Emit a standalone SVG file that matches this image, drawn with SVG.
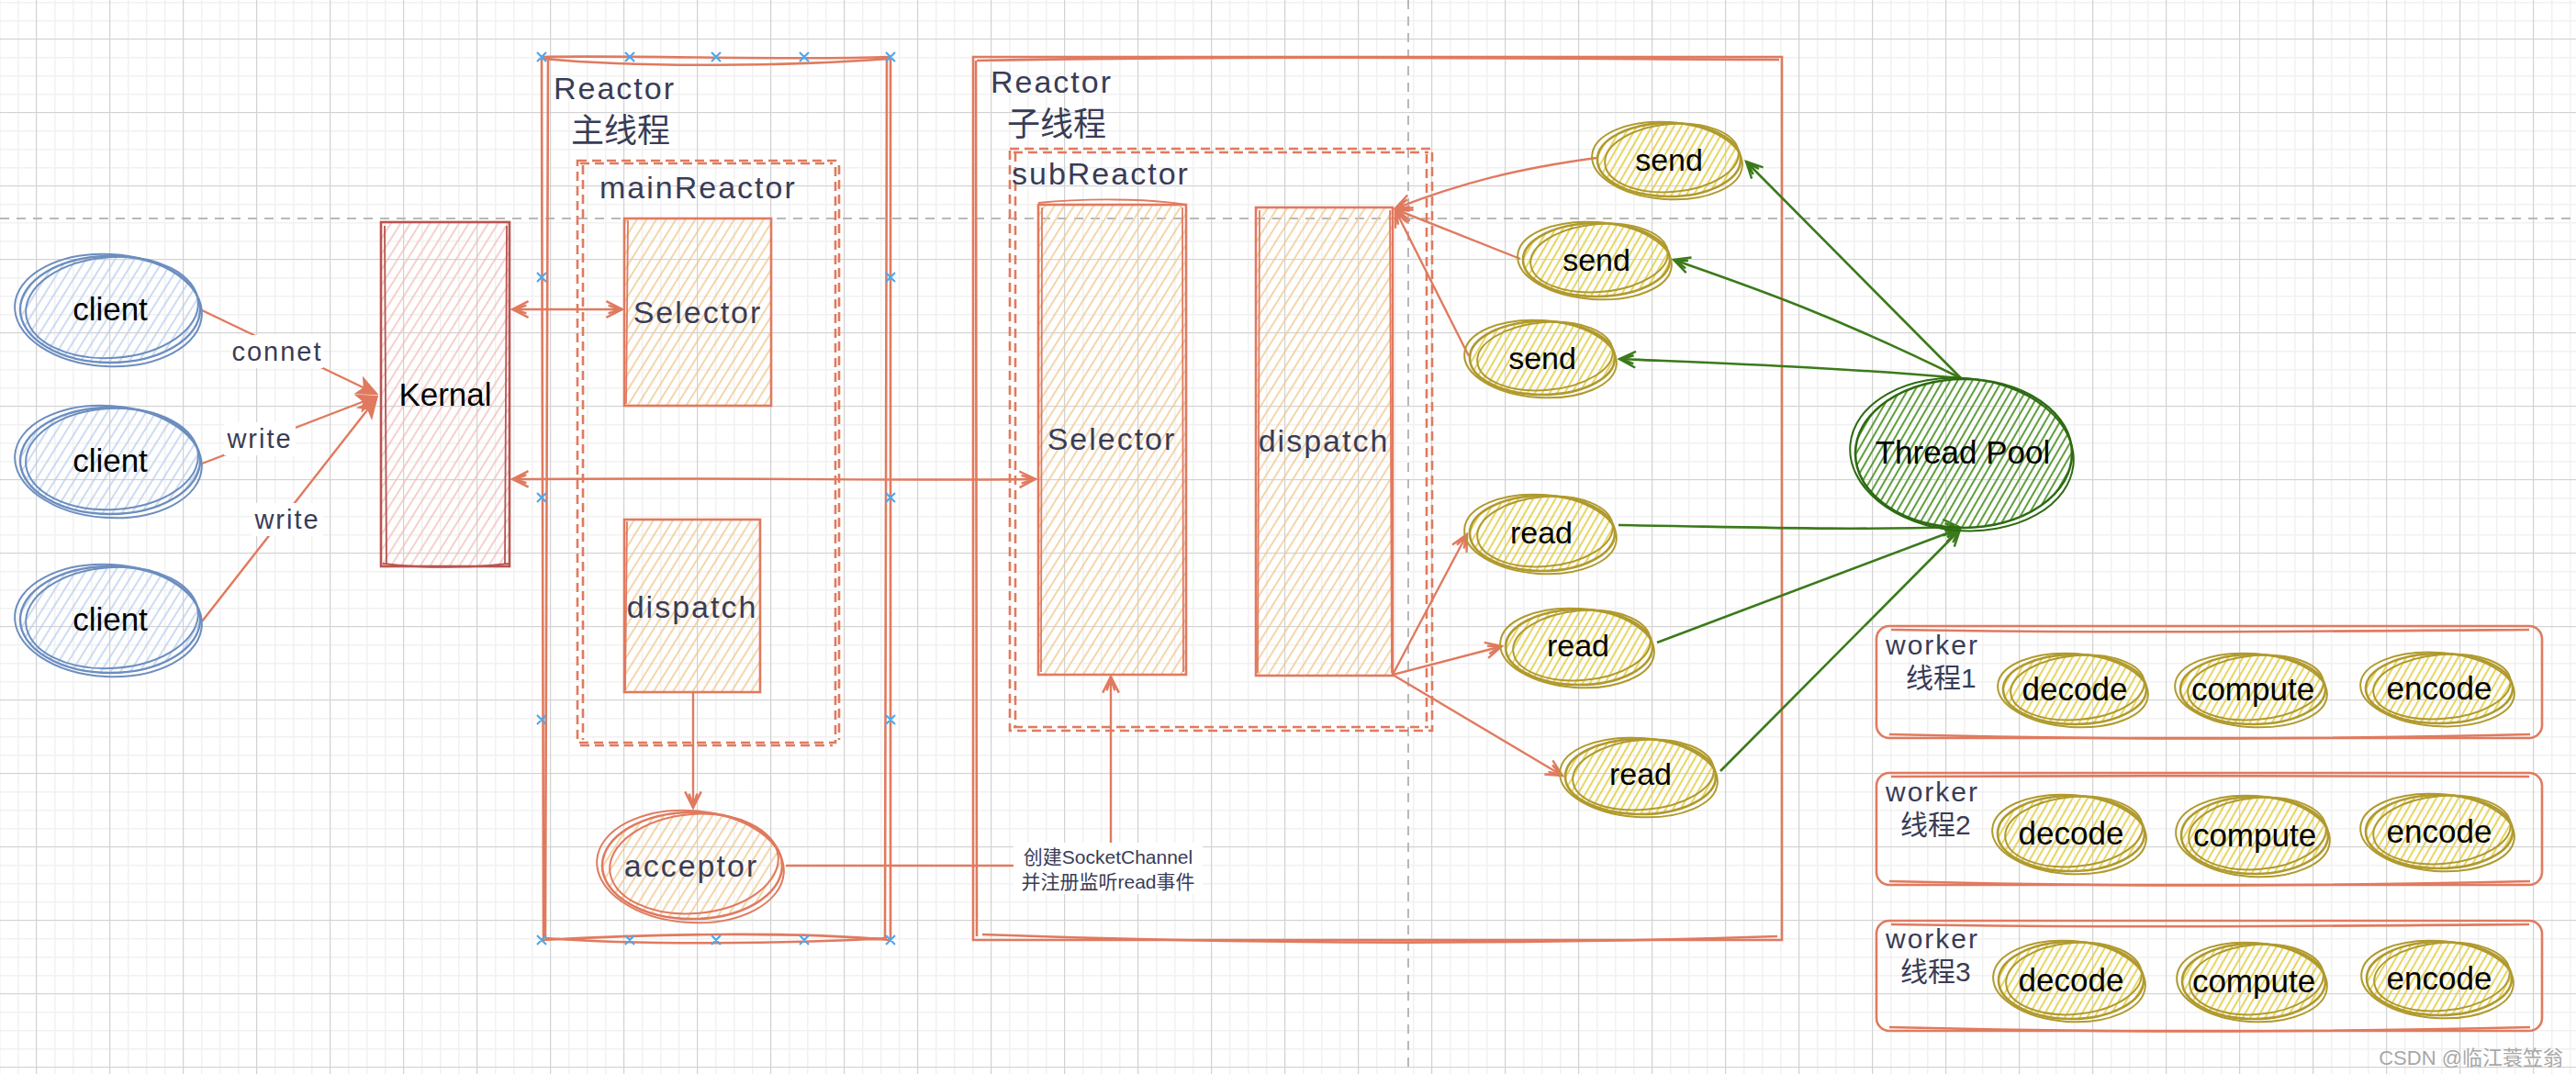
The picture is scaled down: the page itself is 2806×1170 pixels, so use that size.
<svg xmlns="http://www.w3.org/2000/svg" width="2806" height="1170" viewBox="0 0 2806 1170">
<defs>
<pattern id="gMinor" width="20" height="20" patternUnits="userSpaceOnUse" x="-1" y="2"><path d="M0,0 H20 M0,0 V20" stroke="#f1f1f1" stroke-width="3" fill="none"/></pattern>
<pattern id="gMajor" width="80" height="80" patternUnits="userSpaceOnUse" x="39" y="42"><path d="M0,0.5 H80 M0.5,0 V80" stroke="#d2d2d2" stroke-width="1.2" fill="none"/></pattern>
<pattern id="hBlue" width="9" height="9" patternUnits="userSpaceOnUse" patternTransform="rotate(32)"><path d="M4,0 V9" stroke="#b7cdee" stroke-width="1.4"/></pattern>
<pattern id="hPink" width="9" height="9" patternUnits="userSpaceOnUse" patternTransform="rotate(32)"><path d="M4,0 V9" stroke="#f3bcb8" stroke-width="1.4"/></pattern>
<pattern id="hOrange" width="9" height="9" patternUnits="userSpaceOnUse" patternTransform="rotate(32)"><path d="M4,0 V9" stroke="#f0c890" stroke-width="1.5"/></pattern>
<pattern id="hYellow" width="7" height="7" patternUnits="userSpaceOnUse" patternTransform="rotate(30)"><path d="M3,0 V7" stroke="#e3cc3a" stroke-width="1.6"/></pattern>
<pattern id="hGreen" width="7" height="7" patternUnits="userSpaceOnUse" patternTransform="rotate(30)"><path d="M3,0 V7" stroke="#4e9428" stroke-width="1.8"/></pattern>
<marker id="aS" viewBox="0 0 20 20" refX="18" refY="10" markerWidth="22" markerHeight="22" markerUnits="userSpaceOnUse" orient="auto-start-reverse"><path d="M2,2 L18,10 L2,18 M4,6 L16,10 L4,14" fill="none" stroke="#e07a5f" stroke-width="2.2"/></marker>
<marker id="aG" viewBox="0 0 20 20" refX="18" refY="10" markerWidth="22" markerHeight="22" markerUnits="userSpaceOnUse" orient="auto"><path d="M2,2 L18,10 L2,18 M4,6 L16,10 L4,14" fill="none" stroke="#3b7a1a" stroke-width="2.2"/></marker>
<marker id="aK" viewBox="0 0 20 20" refX="18" refY="10" markerWidth="24" markerHeight="24" markerUnits="userSpaceOnUse" orient="auto"><path d="M2,3 L18,10 L2,17 L6,10 Z" fill="#e07a5f" stroke="#e07a5f" stroke-width="2"/></marker>
<style>
.navy{font-family:"Liberation Sans",Arial,sans-serif;fill:#393c56;letter-spacing:2px}
.blk{font-family:"Liberation Sans",Arial,sans-serif;fill:#000;text-anchor:middle}
.cjk{font-family:"Liberation Sans","Noto Sans CJK SC",sans-serif;fill:#393c56}
.sal{fill:none;stroke:#e07a5f;stroke-width:2.6}
.dash{fill:none;stroke:#e07a5f;stroke-width:2.6;stroke-dasharray:10 6}
.cE{fill:url(#hBlue);stroke:#6c8ebf;stroke-width:2.4}
.cS{fill:none;stroke:#6c8ebf;stroke-width:2}
.yE{fill:url(#hYellow);stroke:#b09a2e;stroke-width:2.6}
.yS{fill:none;stroke:#b09a2e;stroke-width:2}
.oE{fill:url(#hOrange);stroke:#e07a5f;stroke-width:2.6}
.lnS{fill:none;stroke:#e07a5f;stroke-width:2.4}
.lnG{fill:none;stroke:#3b7a1a;stroke-width:2.6}
.mk{stroke:#4ea8ee;stroke-width:2.2;fill:none}
.lblbg{fill:#fff}
</style>
</defs>
<rect width="2806" height="1170" fill="#fff"/>
<rect width="2806" height="1170" fill="url(#gMinor)"/>
<rect width="2806" height="1170" fill="url(#gMajor)"/>
<path d="M0,238 H2806" stroke="#b8b8b8" stroke-width="2" stroke-dasharray="10 8"/>
<path d="M1534,0 V1170" stroke="#b8b8b8" stroke-width="2" stroke-dasharray="10 8"/>

<g id="reactor-main">
<path class="sal" d="M590,62 C700,60 860,66 970,62 M592,64 C700,74 860,72 968,64 M590,62 L592,1024 M597,64 L594,1022 M970,62 L970,1024 M966,64 L964,1022 M590,1024 C700,1018 860,1014 970,1024 M594,1022 C700,1030 860,1028 966,1022"/>
<text class="navy" x="603" y="108" font-size="34">Reactor</text>
<text class="cjk" x="622" y="155" font-size="36">主线程</text>
<g class="mk">
<path d="M585,57 l10,10 m0,-10 l-10,10 M681,57 l10,10 m0,-10 l-10,10 M775,57 l10,10 m0,-10 l-10,10 M871,57 l10,10 m0,-10 l-10,10 M965,57 l10,10 m0,-10 l-10,10"/>
<path d="M585,297 l10,10 m0,-10 l-10,10 M965,297 l10,10 m0,-10 l-10,10 M585,537 l10,10 m0,-10 l-10,10 M965,537 l10,10 m0,-10 l-10,10 M585,779 l10,10 m0,-10 l-10,10 M965,779 l10,10 m0,-10 l-10,10"/>
<path d="M585,1019 l10,10 m0,-10 l-10,10 M681,1019 l10,10 m0,-10 l-10,10 M775,1019 l10,10 m0,-10 l-10,10 M871,1019 l10,10 m0,-10 l-10,10 M965,1019 l10,10 m0,-10 l-10,10"/>
</g>
</g>

<g id="main-reactor">
<path class="dash" d="M629,175 H910 V809 H629 Z"/>
<path class="dash" d="M632,178 H907 M635,180 V806 M914,180 V806 M632,812 H907" stroke-width="2"/>
<text class="navy" x="653" y="216" font-size="34">mainReactor</text>
</g>

<g id="reactor-sub">
<path class="sal" d="M1060,62 H1941 V1024 H1060 Z"/>
<path class="sal" stroke-width="1.8" d="M1064,66 C1400,60 1700,64 1938,65 M1063,66 L1064,1020 M1070,1018 C1400,1030 1700,1028 1936,1020"/>
<text class="navy" x="1079" y="101" font-size="34">Reactor</text>
<text class="cjk" x="1097" y="148" font-size="36">子线程</text>
</g>

<g id="sub-reactor">
<path class="dash" d="M1100,162 H1560 V796 H1100 Z"/>
<path class="dash" stroke-width="2" d="M1104,166 H1556 M1106,166 V792 M1554,168 V790 M1104,792 H1556"/>
<text class="navy" x="1102" y="201" font-size="34">subReactor</text>
</g>

<g id="connectors">
<path class="lnS" d="M220,338 L410,429" marker-end="url(#aK)"/>
<path class="lnS" d="M220,505 L410,432" marker-end="url(#aK)"/>
<path class="lnS" d="M220,677 L410,434" marker-end="url(#aK)"/>
<rect class="lblbg" x="252" y="365" width="100" height="36"/>
<text class="navy" x="302" y="393" font-size="29" text-anchor="middle" letter-spacing="1">connet</text>
<rect class="lblbg" x="244" y="460" width="78" height="36"/>
<text class="navy" x="283" y="488" font-size="29" text-anchor="middle" letter-spacing="1">write</text>
<rect class="lblbg" x="274" y="548" width="78" height="36"/>
<text class="navy" x="313" y="576" font-size="29" text-anchor="middle" letter-spacing="1">write</text>

<path class="lnS" d="M558,337 L678,337" marker-start="url(#aS)" marker-end="url(#aS)"/>
<path class="lnS" d="M558,522 C800,520 1000,524 1128,522" marker-start="url(#aS)" marker-end="url(#aS)"/>
<path class="lnS" d="M755,755 L755,880" marker-end="url(#aS)"/>
<path class="lnS" d="M856,943 H1210 V737" marker-end="url(#aS)"/>
<rect class="lblbg" x="1104" y="918" width="206" height="56"/>
<text class="cjk" x="1207" y="941" font-size="21" text-anchor="middle">创建SocketChannel</text>
<text class="cjk" x="1207" y="968" font-size="21" text-anchor="middle">并注册监听read事件</text>

<path class="lnS" d="M1739,172 C1650,184 1590,200 1520,227" marker-end="url(#aS)"/>
<path class="lnS" d="M1656,282 L1520,228" marker-end="url(#aS)"/>
<path class="lnS" d="M1600,388 L1520,229" marker-end="url(#aS)"/>
<path class="lnS" d="M1517,735 L1598,582" marker-end="url(#aS)"/>
<path class="lnS" d="M1517,735 L1636,704" marker-end="url(#aS)"/>
<path class="lnS" d="M1517,735 L1702,845" marker-end="url(#aS)"/>

<path class="lnG" d="M2136,412 L1902,176" marker-end="url(#aG)"/>
<path class="lnG" d="M2136,412 C1990,340 1900,310 1823,283" marker-end="url(#aG)"/>
<path class="lnG" d="M2136,412 C2000,400 1880,396 1764,391" marker-end="url(#aG)"/>
<path class="lnG" d="M1763,572 C1900,574 2000,578 2134,574" marker-end="url(#aG)"/>
<path class="lnG" d="M1805,700 L2134,576" marker-end="url(#aG)"/>
<path class="lnG" d="M1874,840 L2135,577" marker-end="url(#aG)"/>
</g>

<g id="client1">
<ellipse class="cE" cx="120" cy="337" rx="98" ry="58"/>
<ellipse class="cS" cx="118" cy="338" rx="102" ry="61" transform="rotate(3 118 338)"/>
<ellipse class="cS" cx="122" cy="335" rx="94" ry="55" transform="rotate(-4 122 335)"/>
<text class="blk" x="120" y="349" font-size="35">client</text>
</g>
<g id="client2">
<ellipse class="cE" cx="120" cy="502" rx="98" ry="58"/>
<ellipse class="cS" cx="118" cy="503" rx="102" ry="61" transform="rotate(4 118 503)"/>
<ellipse class="cS" cx="122" cy="500" rx="94" ry="55" transform="rotate(-3 122 500)"/>
<text class="blk" x="120" y="514" font-size="35">client</text>
</g>
<g id="client3">
<ellipse class="cE" cx="120" cy="675" rx="98" ry="58"/>
<ellipse class="cS" cx="118" cy="676" rx="102" ry="61" transform="rotate(3 118 676)"/>
<ellipse class="cS" cx="122" cy="673" rx="94" ry="55" transform="rotate(-4 122 673)"/>
<text class="blk" x="120" y="687" font-size="35">client</text>
</g>

<g id="kernal">
<rect x="415" y="242" width="140" height="375" fill="url(#hPink)" stroke="#b85450" stroke-width="2.6"/>
<path d="M419,246 L421,614 M552,246 L550,614 M417,614 C470,620 520,618 554,614" fill="none" stroke="#b85450" stroke-width="1.8"/>
<text class="blk" x="485" y="442" font-size="35">Kernal</text>
</g>

<g id="main-selector">
<rect class="oE" x="680" y="238" width="160" height="204"/>
<path d="M684,240 L682,440" fill="none" stroke="#e07a5f" stroke-width="1.8"/>
<text class="navy" x="760" y="352" font-size="34" text-anchor="middle">Selector</text>
</g>
<g id="main-dispatch">
<rect class="oE" x="680" y="566" width="148" height="188"/>
<path d="M683,568 L681,752" fill="none" stroke="#e07a5f" stroke-width="1.8"/>
<text class="navy" x="754" y="673" font-size="34" text-anchor="middle">dispatch</text>
</g>
<g id="acceptor">
<ellipse class="oE" cx="754" cy="943" rx="98" ry="58"/>
<ellipse cx="752" cy="944" rx="102" ry="61" transform="rotate(4 752 944)" fill="none" stroke="#e07a5f" stroke-width="2"/>
<ellipse cx="756" cy="941" rx="92" ry="54" transform="rotate(-5 756 941)" fill="none" stroke="#e07a5f" stroke-width="2"/>
<text class="navy" x="753" y="955" font-size="34" text-anchor="middle">acceptor</text>
</g>

<g id="sub-selector">
<rect class="oE" x="1131" y="223" width="161" height="512"/>
<path d="M1135,226 L1134,732 M1288,226 L1289,732 M1131,221 C1180,216 1250,216 1292,223" fill="none" stroke="#e07a5f" stroke-width="1.8"/>
<text class="navy" x="1211" y="490" font-size="34" text-anchor="middle">Selector</text>
</g>
<g id="sub-dispatch">
<rect class="oE" x="1368" y="226" width="149" height="510"/>
<path d="M1372,229 L1370,733 M1514,229 L1516,733" fill="none" stroke="#e07a5f" stroke-width="1.8"/>
<text class="navy" x="1442" y="492" font-size="34" text-anchor="middle">dispatch</text>
</g>

<g id="send1">
<ellipse class="yE" cx="1818" cy="174" rx="78" ry="40"/>
<ellipse class="yS" cx="1816" cy="175" rx="82" ry="42" transform="rotate(4 1816 175)"/>
<ellipse class="yS" cx="1821" cy="172" rx="73" ry="37" transform="rotate(-5 1821 172)"/>
<text class="blk" x="1818" y="186" font-size="34">send</text>
</g>
<g id="send2">
<ellipse class="yE" cx="1739" cy="283" rx="80" ry="40"/>
<ellipse class="yS" cx="1737" cy="284" rx="84" ry="42" transform="rotate(4 1737 284)"/>
<ellipse class="yS" cx="1742" cy="281" rx="75" ry="37" transform="rotate(-5 1742 281)"/>
<text class="blk" x="1739" y="295" font-size="34">send</text>
</g>
<g id="send3">
<ellipse class="yE" cx="1680" cy="390" rx="79" ry="40"/>
<ellipse class="yS" cx="1678" cy="391" rx="83" ry="42" transform="rotate(4 1678 391)"/>
<ellipse class="yS" cx="1683" cy="388" rx="74" ry="37" transform="rotate(-5 1683 388)"/>
<text class="blk" x="1680" y="402" font-size="34">send</text>
</g>
<g id="read1">
<ellipse class="yE" cx="1680" cy="581" rx="79" ry="41"/>
<ellipse class="yS" cx="1678" cy="582" rx="83" ry="43" transform="rotate(4 1678 582)"/>
<ellipse class="yS" cx="1683" cy="579" rx="74" ry="38" transform="rotate(-5 1683 579)"/>
<text class="blk" x="1679" y="592" font-size="34">read</text>
</g>
<g id="read2">
<ellipse class="yE" cx="1720" cy="705" rx="80" ry="41"/>
<ellipse class="yS" cx="1718" cy="706" rx="84" ry="43" transform="rotate(4 1718 706)"/>
<ellipse class="yS" cx="1723" cy="703" rx="75" ry="38" transform="rotate(-5 1723 703)"/>
<text class="blk" x="1719" y="715" font-size="34">read</text>
</g>
<g id="read3">
<ellipse class="yE" cx="1787" cy="846" rx="82" ry="41"/>
<ellipse class="yS" cx="1785" cy="847" rx="86" ry="43" transform="rotate(4 1785 847)"/>
<ellipse class="yS" cx="1790" cy="844" rx="77" ry="38" transform="rotate(-5 1790 844)"/>
<text class="blk" x="1787" y="855" font-size="34">read</text>
</g>

<g id="thread-pool">
<ellipse cx="2139" cy="494" rx="118" ry="81" fill="url(#hGreen)" stroke="#2d6b12" stroke-width="2.6"/>
<ellipse cx="2137" cy="495" rx="122" ry="83" transform="rotate(5 2137 495)" fill="none" stroke="#2d6b12" stroke-width="2"/>
<text class="blk" x="2138" y="505" font-size="35">Thread Pool</text>
</g>

<g id="worker1">
<rect class="sal" x="2044" y="682" width="725" height="122" rx="14"/>
<path class="sal" stroke-width="1.6" d="M2060,686 C2300,690 2500,688 2755,686 M2058,800 C2300,806 2500,806 2756,800"/>
<text class="navy" x="2054" y="713" font-size="30">worker</text>
<text class="cjk" x="2076" y="749" font-size="30">线程1</text>
</g>
<g id="worker2">
<rect class="sal" x="2044" y="842" width="725" height="122" rx="14"/>
<path class="sal" stroke-width="1.6" d="M2060,846 C2300,844 2500,846 2755,846 M2058,960 C2300,966 2500,966 2756,960"/>
<text class="navy" x="2054" y="873" font-size="30">worker</text>
<text class="cjk" x="2070" y="909" font-size="30">线程2</text>
</g>
<g id="worker3">
<rect class="sal" x="2044" y="1003" width="725" height="120" rx="14"/>
<path class="sal" stroke-width="1.6" d="M2060,1007 C2300,1011 2500,1009 2755,1007 M2058,1119 C2300,1125 2500,1125 2756,1119"/>
<text class="navy" x="2054" y="1033" font-size="30">worker</text>
<text class="cjk" x="2070" y="1069" font-size="30">线程3</text>
</g>

<g id="w1-decode"><ellipse class="yE" cx="2260" cy="751" rx="78" ry="38"/><ellipse class="yS" cx="2258" cy="752" rx="82" ry="40" transform="rotate(4 2258 752)"/><ellipse class="yS" cx="2263" cy="749" rx="73" ry="35" transform="rotate(-5 2263 749)"/><text class="blk" x="2260" y="763" font-size="35">decode</text></g>
<g id="w1-compute"><ellipse class="yE" cx="2454" cy="751" rx="79" ry="38"/><ellipse class="yS" cx="2452" cy="752" rx="83" ry="40" transform="rotate(4 2452 752)"/><ellipse class="yS" cx="2457" cy="749" rx="74" ry="35" transform="rotate(-5 2457 749)"/><text class="blk" x="2454" y="763" font-size="35">compute</text></g>
<g id="w1-encode"><ellipse class="yE" cx="2657" cy="750" rx="80" ry="38"/><ellipse class="yS" cx="2655" cy="751" rx="84" ry="40" transform="rotate(4 2655 751)"/><ellipse class="yS" cx="2660" cy="748" rx="75" ry="35" transform="rotate(-5 2660 748)"/><text class="blk" x="2657" y="762" font-size="35">encode</text></g>

<g id="w2-decode"><ellipse class="yE" cx="2256" cy="908" rx="80" ry="41"/><ellipse class="yS" cx="2254" cy="909" rx="84" ry="43" transform="rotate(4 2254 909)"/><ellipse class="yS" cx="2259" cy="906" rx="75" ry="38" transform="rotate(-5 2259 906)"/><text class="blk" x="2256" y="920" font-size="35">decode</text></g>
<g id="w2-compute"><ellipse class="yE" cx="2456" cy="910" rx="80" ry="42"/><ellipse class="yS" cx="2454" cy="911" rx="84" ry="44" transform="rotate(4 2454 911)"/><ellipse class="yS" cx="2459" cy="908" rx="75" ry="39" transform="rotate(-5 2459 908)"/><text class="blk" x="2456" y="922" font-size="35">compute</text></g>
<g id="w2-encode"><ellipse class="yE" cx="2657" cy="906" rx="80" ry="40"/><ellipse class="yS" cx="2655" cy="907" rx="84" ry="42" transform="rotate(4 2655 907)"/><ellipse class="yS" cx="2660" cy="904" rx="75" ry="37" transform="rotate(-5 2660 904)"/><text class="blk" x="2657" y="918" font-size="35">encode</text></g>

<g id="w3-decode"><ellipse class="yE" cx="2256" cy="1068" rx="79" ry="42"/><ellipse class="yS" cx="2254" cy="1069" rx="83" ry="44" transform="rotate(4 2254 1069)"/><ellipse class="yS" cx="2259" cy="1066" rx="74" ry="39" transform="rotate(-5 2259 1066)"/><text class="blk" x="2256" y="1080" font-size="35">decode</text></g>
<g id="w3-compute"><ellipse class="yE" cx="2455" cy="1069" rx="78" ry="41"/><ellipse class="yS" cx="2453" cy="1070" rx="82" ry="43" transform="rotate(4 2453 1070)"/><ellipse class="yS" cx="2458" cy="1067" rx="73" ry="38" transform="rotate(-5 2458 1067)"/><text class="blk" x="2455" y="1081" font-size="35">compute</text></g>
<g id="w3-encode"><ellipse class="yE" cx="2657" cy="1066" rx="79" ry="40"/><ellipse class="yS" cx="2655" cy="1067" rx="83" ry="42" transform="rotate(4 2655 1067)"/><ellipse class="yS" cx="2660" cy="1064" rx="74" ry="37" transform="rotate(-5 2660 1064)"/><text class="blk" x="2657" y="1078" font-size="35">encode</text></g>

<text x="2792" y="1160" font-family="Liberation Sans,'Noto Sans CJK SC',sans-serif" font-size="22" fill="#a8a8a8" text-anchor="end">CSDN @临江蓑笠翁</text>
</svg>
